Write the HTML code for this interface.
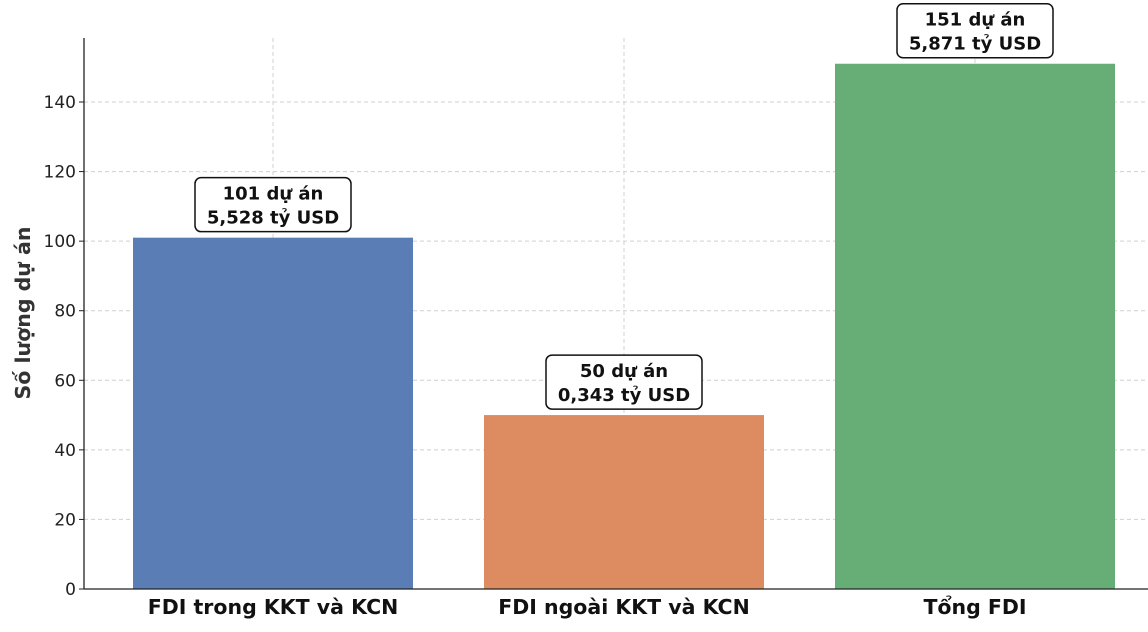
<!DOCTYPE html>
<html><head><meta charset="utf-8"><style>
html,body{margin:0;padding:0;background:#fff;}
svg{display:block;font-family:"DejaVu Sans","Liberation Sans",sans-serif;}
</style></head><body>
<svg id="chart" width="1148" height="632" viewBox="0 0 1148 632" xmlns="http://www.w3.org/2000/svg"></svg>
<script>
const categories = ["FDI trong KKT và KCN", "FDI ngoài KKT và KCN", "Tổng FDI"];
const projectCounts = [101, 50, 151];
const capitalLabels = ["5,528 tỷ USD", "0,343 tỷ USD", "5,871 tỷ USD"];
const yTicks = [0, 20, 40, 60, 80, 100, 120, 140];
const colors = ["#5b7db6", "#dd8c61", "#67ae76"];

const NS = "http://www.w3.org/2000/svg";
const svg = document.getElementById("chart");
const x0 = 84, x1 = 1148, yBase = 589, yTop = 38;
const yScale = v => yBase - v * (551 / 158.4);
const slot = 351, barW = 280, firstCenter = 273;
const xCenter = i => firstCenter + i * slot;

function mk(tag, attrs, text) {
  const e = document.createElementNS(NS, tag);
  for (const k in attrs) e.setAttribute(k, attrs[k]);
  if (text !== undefined) e.textContent = text;
  svg.appendChild(e);
  return e;
}

// grid
yTicks.forEach(t => {
  const y = yScale(t);
  const g = mk("line", {x1: x0, x2: x1, y1: y, y2: y, stroke: "#d0d0d0", "stroke-dasharray": "4,3", "stroke-width": 1});
  
  
  const tk = mk("line", {x1: x0 - 5, x2: x0, y1: y, y2: y, stroke: "#222", "stroke-width": 1});
  
  
  const lb = mk("text", {x: x0 - 8, y: y + 6, "text-anchor": "end", "font-size": 17, fill: "#222"}, String(t));
  
  
});
categories.forEach((c, i) => {
  const g = mk("line", {x1: xCenter(i), x2: xCenter(i), y1: yTop, y2: yBase, stroke: "#d0d0d0", "stroke-dasharray": "4,3", "stroke-width": 1});
  
  
});

// bars
categories.forEach((c, i) => {
  const v = projectCounts[i];
  const yt = yScale(v);
  const b = mk("rect", {x: xCenter(i) - barW / 2, y: yt, width: barW, height: yBase - yt, fill: colors[i]});
  
  
  const bw = 156, bh = 54;
  const box = mk("rect", {x: xCenter(i) - bw / 2, y: yt - 6 - bh, width: bw, height: bh, rx: 6, fill: "#fff", stroke: "#111", "stroke-width": 1.5});
  
  
  const t1 = mk("text", {x: xCenter(i), y: yt - 6 - bh + 22, "text-anchor": "middle", "font-size": 18, "font-weight": "bold", fill: "#111"}, v + " dự án");
  
  
  const t2 = mk("text", {x: xCenter(i), y: yt - 6 - bh + 46, "text-anchor": "middle", "font-size": 18, "font-weight": "bold", fill: "#111"}, capitalLabels[i]);
  
  
  const xl = mk("text", {x: xCenter(i), y: 614, "text-anchor": "middle", "font-size": 20.5, "font-weight": "bold", fill: "#111"}, c);
  
  
});

// axes
const ya = mk("line", {x1: x0, x2: x0, y1: yTop, y2: yBase, stroke: "#222", "stroke-width": 1.3});


const xa = mk("line", {x1: x0, x2: x1, y1: yBase, y2: yBase, stroke: "#222", "stroke-width": 1.3});


const yt = mk("text", {x: 0, y: 0, transform: "translate(30,313) rotate(-90)", "text-anchor": "middle", "font-size": 20.5, "font-weight": "bold", fill: "#333"}, "Số lượng dự án");


</script>
</body></html>
